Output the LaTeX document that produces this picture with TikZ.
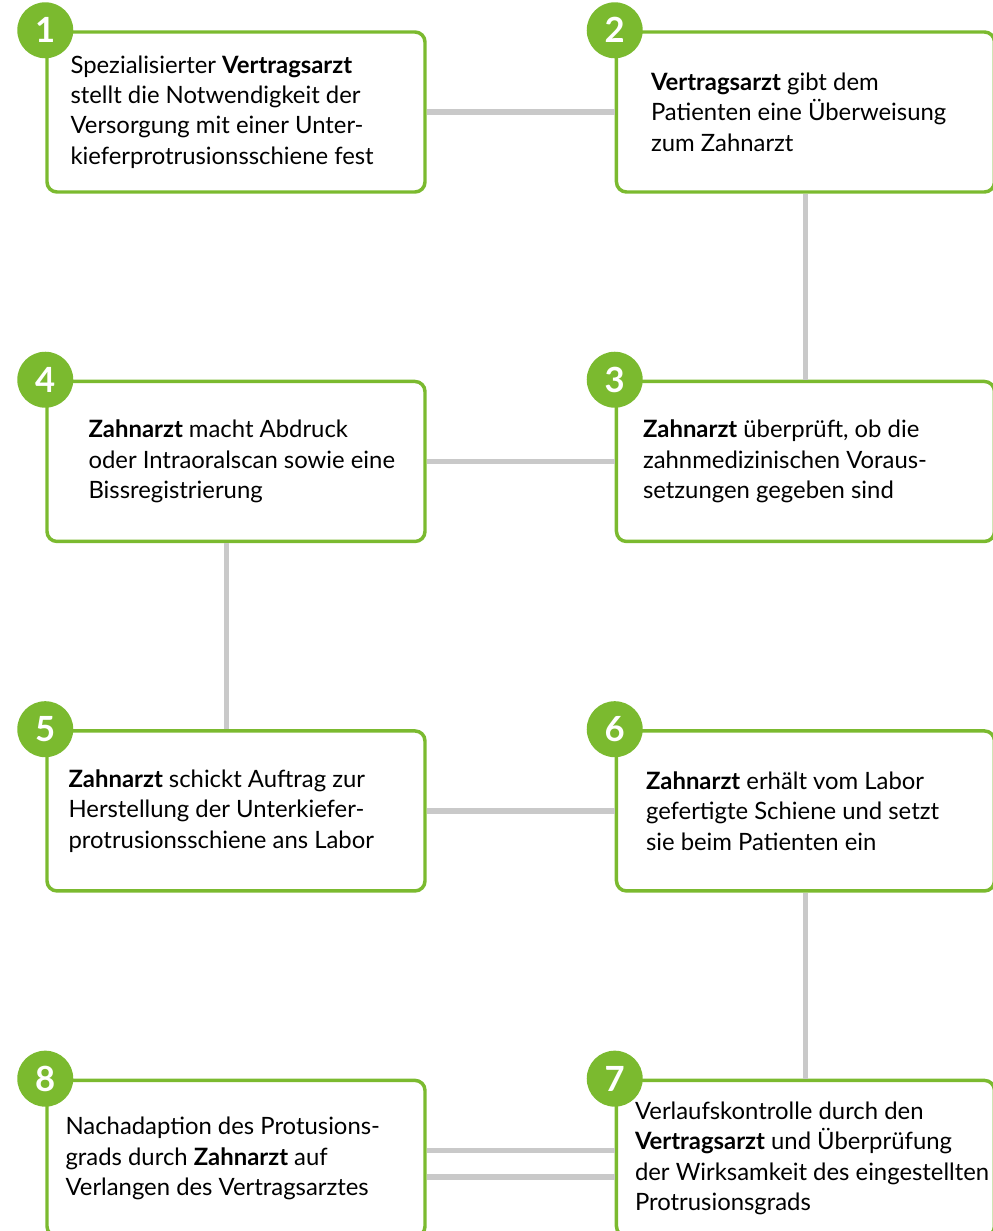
\documentclass[tikz,border=0pt]{standalone}
\usepackage{fontspec}
\setmainfont{Lato}
\usetikzlibrary{positioning}
\definecolor{stepgreen}{HTML}{7BBA2F}
\definecolor{linkgray}{HTML}{C9C9C9}

\begin{document}
\begin{tikzpicture}[
    node distance=139.5pt and 141pt,
    box/.style={draw=stepgreen, line width=2.6pt, rounded corners=7.5pt, fill=white, minimum width=283.5pt, minimum height=120pt, inner sep=0pt},
    lastrow/.style={minimum height=117pt},
    txt/.style={align=left, inner sep=0pt, font=\fontsize{17.9pt}{22.75pt}\selectfont},
    badge/.style={circle, fill=stepgreen, text=white, minimum size=42pt, inner sep=0pt, font=\fontsize{26pt}{26pt}\selectfont\bfseries},
    link/.style={draw=linkgray, line width=4pt}
]
\useasboundingbox (0,0) rectangle (744pt,-923.25pt);

% boxes
\node[box] (b1) at (177pt,-84pt) {};
\node[box, right=of b1] (b2) {};
\node[box, below=of b2] (b3) {};
\node[box, left=of b3] (b4) {};
\node[box, below=of b4] (b5) {};
\node[box, right=of b5] (b6) {};
\node[box, lastrow, below=of b6] (b7) {};
\node[box, lastrow, left=of b7] (b8) {};

% texts
\node[txt, right=18.75pt of b1.west] (t1) {Spezialisierter \textbf{Vertragsarzt}\\stellt die Notwendigkeit der\\Versorgung mit einer Unter-\\kieferprotrusionsschiene fest};
\node[txt, right=27pt of b2.west] (t2) {\textbf{Vertragsarzt} gibt dem\\Patienten eine Überweisung\\zum Zahnarzt};
\node[txt, right=21pt of b3.west] (t3) {\textbf{Zahnarzt} überprüft, ob die\\zahnmedizinischen Voraus-\\setzungen gegeben sind};
\node[txt, right=32.25pt of b4.west] (t4) {\textbf{Zahnarzt} macht Abdruck\\oder Intraoralscan sowie eine\\Bissregistrierung};
\node[txt, right=17.25pt of b5.west] (t5) {\textbf{Zahnarzt} schickt Auftrag zur\\Herstellung der Unterkiefer-\\protrusionsschiene ans Labor};
\node[txt, right=23.25pt of b6.west] (t6) {\textbf{Zahnarzt} erhält vom Labor\\gefertigte Schiene und setzt\\sie beim Patienten ein};
\node[txt, right=15pt of b7.west] (t7) {Verlaufskontrolle durch den\\\textbf{Vertragsarzt} und Überprüfung\\der Wirksamkeit des eingestellten\\Protrusionsgrads};
\node[txt, right=15pt of b8.west] (t8) {Nachadaption des Protusions-\\grads durch \textbf{Zahnarzt} auf\\Verlangen des Vertragsarztes};

% numbers
\foreach \i in {1,...,8}
    \node[badge] (n\i) at (b\i.north west) {\i};

% links
\draw[link] (b1) -- (b2);
\draw[link] (b2) -- (b3);
\draw[link] (b3) -- (b4);
\draw[link] ([xshift=-7pt]b4.south) -- ([xshift=-7pt]b5.north);
\draw[link] (b5) -- (b6);
\draw[link] (b6) -- (b7);
\draw[link] ([yshift=6pt]b7.west) -- ([yshift=6pt]b8.east);
\draw[link] ([yshift=-14pt]b7.west) -- ([yshift=-14pt]b8.east);
\end{tikzpicture}
\end{document}
